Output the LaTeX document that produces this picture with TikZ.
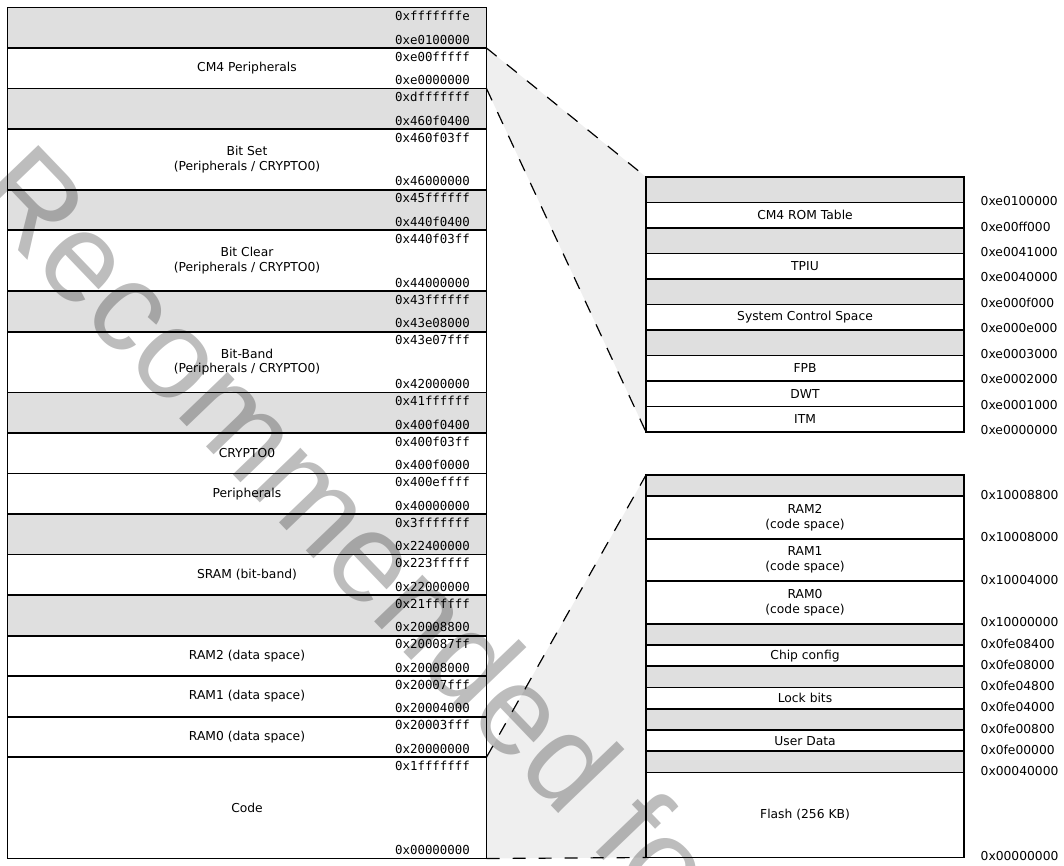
\documentclass[tikz,border=0pt]{standalone}
\usepackage{fontspec}
\setmainfont{DejaVu Sans}
\newfontfamily\addrmono{DejaVu Sans Mono}
\newfontfamily\wmfont{Liberation Sans}
\usetikzlibrary{backgrounds}
\definecolor{gapgray}{HTML}{DFDFDF}
\definecolor{zoomgray}{HTML}{EFEFEF}
\def\lu{20.262pt}
\def\ru{25.5pt}
\def\bu{21.25pt}
\tikzset{
  memrow/.style={draw=black, line width=1.8pt, inner sep=0pt, outer sep=0pt,
    minimum width=479pt, anchor=north west, align=center,
    font=\fontsize{12.3}{14.5}\selectfont},
  zrow/.style={memrow, minimum width=318pt},
  gaprow/.style={fill=gapgray},
  usedrow/.style={fill=white},
  maddr/.style={inner sep=0pt, font=\addrmono\fontsize{12.4}{14}\selectfont, anchor=east},
  zaddr/.style={inner sep=0pt, font=\fontsize{12.3}{14}\selectfont, anchor=west},
  zoomlink/.style={draw=black, line width=1.2pt, dash pattern=on 13pt off 13pt},
  wmark/.style={inner sep=0pt, anchor=base west, rotate=-46.2, text=black,
    text opacity=0.26, font=\wmfont\fontsize{127}{127}\selectfont},
}
\newcommand\LeftRow[7]{%
  \node[memrow,#4,minimum height={#3*\lu}] (#1) at (#2) {#5};
  \node[maddr] (#1t) at ([xshift=-16.5pt,yshift=-8.5pt]#1.north east) {#6};
  \node[maddr] (#1b) at ([xshift=-16.5pt,yshift=8.5pt]#1.south east) {#7};
}
\newcommand\ZRow[6]{% name, at, height, style, label, bottom address
  \node[zrow,#4,minimum height={#3}] (#1) at (#2) {#5};
  \node[zaddr] (#1a) at ([xshift=16.5pt,yshift=1.5pt]#1.south east) {#6};
}
\begin{document}
\begin{tikzpicture}[x=1pt,y=-1pt]
\useasboundingbox (0,0) rectangle (1064,865);

% left memory map
\LeftRow{l1}{7.5,7.5}{2}{gaprow}{}{0xfffffffe}{0xe0100000}
\LeftRow{l2}{l1.south west}{2}{usedrow}{CM4 Peripherals}{0xe00fffff}{0xe0000000}
\LeftRow{l3}{l2.south west}{2}{gaprow}{}{0xdfffffff}{0x460f0400}
\LeftRow{l4}{l3.south west}{3}{usedrow}{Bit Set\\(Peripherals / CRYPTO0)}{0x460f03ff}{0x46000000}
\LeftRow{l5}{l4.south west}{2}{gaprow}{}{0x45ffffff}{0x440f0400}
\LeftRow{l6}{l5.south west}{3}{usedrow}{Bit Clear\\(Peripherals / CRYPTO0)}{0x440f03ff}{0x44000000}
\LeftRow{l7}{l6.south west}{2}{gaprow}{}{0x43ffffff}{0x43e08000}
\LeftRow{l8}{l7.south west}{3}{usedrow}{Bit-Band\\(Peripherals / CRYPTO0)}{0x43e07fff}{0x42000000}
\LeftRow{l9}{l8.south west}{2}{gaprow}{}{0x41ffffff}{0x400f0400}
\LeftRow{l10}{l9.south west}{2}{usedrow}{CRYPTO0}{0x400f03ff}{0x400f0000}
\LeftRow{l11}{l10.south west}{2}{usedrow}{Peripherals}{0x400effff}{0x40000000}
\LeftRow{l12}{l11.south west}{2}{gaprow}{}{0x3fffffff}{0x22400000}
\LeftRow{l13}{l12.south west}{2}{usedrow}{SRAM (bit-band)}{0x223fffff}{0x22000000}
\LeftRow{l14}{l13.south west}{2}{gaprow}{}{0x21ffffff}{0x20008800}
\LeftRow{l15}{l14.south west}{2}{usedrow}{RAM2 (data space)}{0x200087ff}{0x20008000}
\LeftRow{l16}{l15.south west}{2}{usedrow}{RAM1 (data space)}{0x20007fff}{0x20004000}
\LeftRow{l17}{l16.south west}{2}{usedrow}{RAM0 (data space)}{0x20003fff}{0x20000000}
\LeftRow{l18}{l17.south west}{5}{usedrow}{Code}{0x1fffffff}{0x00000000}

% CM4 peripherals detail
\ZRow{r1}{646,177}{\ru}{gaprow}{}{0xe0100000}
\ZRow{r2}{r1.south west}{\ru}{usedrow}{CM4 ROM Table}{0xe00ff000}
\ZRow{r3}{r2.south west}{\ru}{gaprow}{}{0xe0041000}
\ZRow{r4}{r3.south west}{\ru}{usedrow}{TPIU}{0xe0040000}
\ZRow{r5}{r4.south west}{\ru}{gaprow}{}{0xe000f000}
\ZRow{r6}{r5.south west}{\ru}{usedrow}{System Control Space}{0xe000e000}
\ZRow{r7}{r6.south west}{\ru}{gaprow}{}{0xe0003000}
\ZRow{r8}{r7.south west}{\ru}{usedrow}{FPB}{0xe0002000}
\ZRow{r9}{r8.south west}{\ru}{usedrow}{DWT}{0xe0001000}
\ZRow{r10}{r9.south west}{\ru}{usedrow}{ITM}{0xe0000000}

% Code detail
\ZRow{b1}{646,475}{\bu}{gaprow}{}{0x10008800}
\ZRow{b2}{b1.south west}{2*\bu}{usedrow}{RAM2\\(code space)}{0x10008000}
\ZRow{b3}{b2.south west}{2*\bu}{usedrow}{RAM1\\(code space)}{0x10004000}
\ZRow{b4}{b3.south west}{2*\bu}{usedrow}{RAM0\\(code space)}{0x10000000}
\ZRow{b5}{b4.south west}{\bu}{gaprow}{}{0x0fe08400}
\ZRow{b6}{b5.south west}{\bu}{usedrow}{Chip config}{0x0fe08000}
\ZRow{b7}{b6.south west}{\bu}{gaprow}{}{0x0fe04800}
\ZRow{b8}{b7.south west}{\bu}{usedrow}{Lock bits}{0x0fe04000}
\ZRow{b9}{b8.south west}{\bu}{gaprow}{}{0x0fe00800}
\ZRow{b10}{b9.south west}{\bu}{usedrow}{User Data}{0x0fe00000}
\ZRow{b11}{b10.south west}{\bu}{gaprow}{}{0x00040000}
\ZRow{b12}{b11.south west}{4*\bu}{usedrow}{Flash (256 KB)}{0x00000000}

\begin{scope}[on background layer]
  \fill[zoomgray] (l2.north east) -- (r1.north west) -- (r10.south west) -- (l2.south east) -- cycle;
  \fill[zoomgray] (l18.north east) -- (b1.north west) -- (b12.south west) -- (l18.south east) -- cycle;
  \draw[zoomlink] (l2.north east) -- (r1.north west);
  \draw[zoomlink] (l2.south east) -- (r10.south west);
  \draw[zoomlink] (l18.north east) -- (b1.north west);
  \draw[zoomlink] (l18.south east) -- (b12.south west);
\end{scope}

\node[wmark] (wm) at (-32,198) {Recommended fo};
\end{tikzpicture}
\end{document}
